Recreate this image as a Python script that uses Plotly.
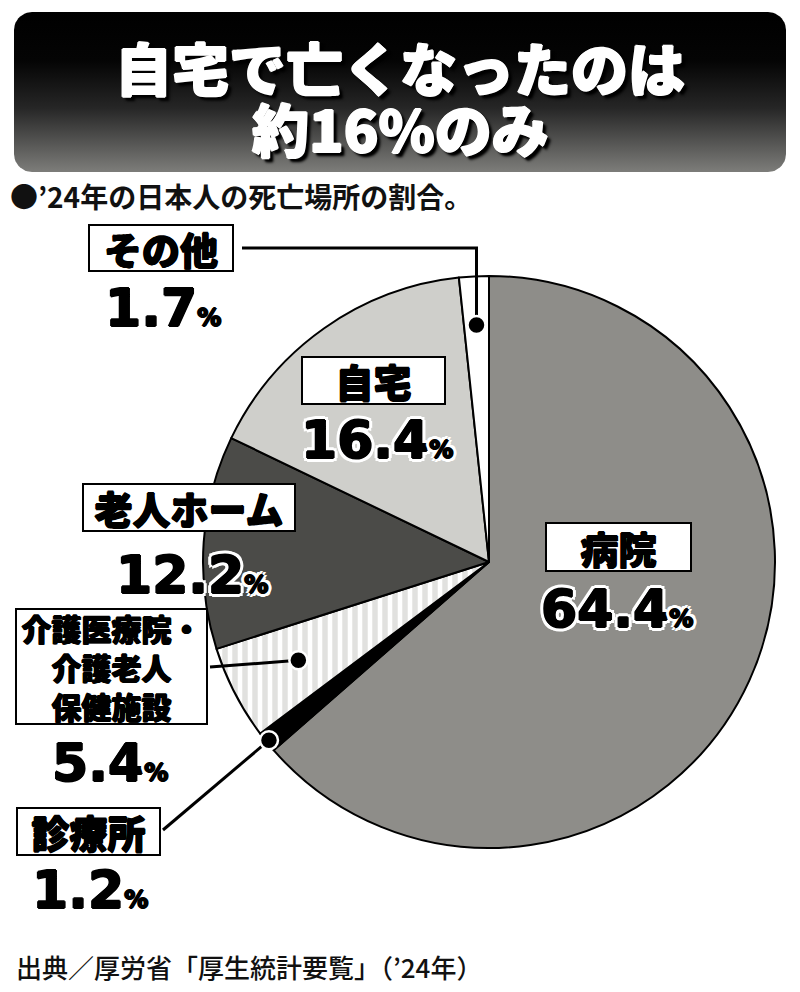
import numpy as np
import plotly.graph_objects as go

W, H = 800, 992

# ---------------- data ----------------
labels = ["病院", "診療所", "介護医療院・介護老人保健施設", "老人ホーム", "自宅", "その他"]
values = [64.4, 1.2, 5.4, 12.2, 16.4, 1.7]
slice_colors = ["#8e8d89", "#000000", "#ffffff", "#4b4b48", "#cfcfcb", "#ffffff"]
slice_patterns = ["", "", "|", "", "", ""]
box_texts = ["病院", "診療所", "介護医療院・<br>介護老人<br>保健施設", "老人ホーム", "自宅", "その他"]
pct_texts = ["64.4", "1.2", "5.4", "12.2", "16.4", "1.7"]

title_lines = ["自宅で亡くなったのは", "約16%のみ"]
subtitle = "●’24年の日本人の死亡場所の割合。"
source = "出典／厚労省「厚生統計要覧」（’24年）"

# ---------------- layout helpers ----------------
CX, CY, R = 489, 562, 286
JP = "Noto Sans CJK JP"
NUM = "DejaVu Sans"

# label box layout: (center x, center y, width, height, font size)
box_layout = [
    (618, 547, 147, 50, 38),
    (88, 831, 145, 49, 38),
    (111, 666, 193, 117, 30),
    (189, 507, 214, 49, 38),
    (373, 380, 145, 49, 38),
    (161, 248, 146, 48, 38),
]
# percent label layout: (center x, center y)
pct_layout = [
    (617, 609),
    (90, 890),
    (110, 763),
    (192, 575),
    (377, 440),
    (163, 308),
]

fig = go.Figure()

# banner (rounded rect with vertical gradient)
def rounded_rect(x0, y0, x1, y1, r, n=12):
    pts = []
    corners = [(x1 - r, y0 + r, -90, 0), (x1 - r, y1 - r, 0, 90),
               (x0 + r, y1 - r, 90, 180), (x0 + r, y0 + r, 180, 270)]
    for cx, cy, a0, a1 in corners:
        for a in np.linspace(np.radians(a0), np.radians(a1), n):
            pts.append((cx + r * np.cos(a), cy + r * np.sin(a)))
    pts.append(pts[0])
    xs, ys = zip(*pts)
    return list(xs), list(ys)

BY0, BY1 = 12, 172
bx, by = rounded_rect(14, BY0, 786, BY1, 18)
fig.add_trace(go.Scatter(
    x=bx, y=by, mode="lines", fill="toself", line=dict(width=0, color="rgba(0,0,0,0)"),
    fillgradient=dict(type="vertical", start=BY0, stop=BY1,
                      colorscale=[[0, "#000000"], [0.3, "#040404"], [0.6, "#262626"], [1, "#7d7d7a"]]),
    hoverinfo="skip", showlegend=False,
))

# pie
fig.add_trace(go.Pie(
    labels=labels, values=values, sort=False, direction="clockwise", rotation=0,
    marker=dict(colors=slice_colors, line=dict(color="#000000", width=2),
                pattern=dict(shape=slice_patterns, fgcolor="#c4c4c0", fillmode="overlay",
                             size=10, solidity=0.55)),
    textinfo="none", hoverinfo="skip", showlegend=False,
    domain=dict(x=[(CX - R) / W, (CX + R) / W], y=[(H - CY - R) / H, (H - CY + R) / H]),
))

shapes = []
annotations = []

# slice geometry for leader dots
vals = np.array(values)
cum = np.cumsum(vals)
total = cum[-1]
mid_ang = (cum - vals / 2) / total * 360.0

def polar(ang, frac):
    a = np.radians(ang)
    return CX + frac * R * np.sin(a), CY - frac * R * np.cos(a)

# leader lines + dots
ox, oy = polar(mid_ang[5], 0.83)
shapes.append(dict(type="path", path=f"M 242 248 L {ox:.1f} 248 L {ox:.1f} {oy:.1f}",
                   line=dict(color="black", width=3), xref="x", yref="y", layer="above"))
kx, ky = polar(mid_ang[2], 0.75)
shapes.append(dict(type="line", x0=210, y0=667, x1=kx, y1=ky,
                   line=dict(color="black", width=3), xref="x", yref="y", layer="above"))
sx, sy = polar(mid_ang[1], 0.99)
shapes.append(dict(type="line", x0=163, y0=830, x1=sx, y1=sy,
                   line=dict(color="black", width=3), xref="x", yref="y", layer="above"))
for (dx, dy) in [(ox, oy), (kx, ky), (sx, sy)]:
    shapes.append(dict(type="circle", x0=dx - 9, x1=dx + 9, y0=dy - 9, y1=dy + 9,
                       fillcolor="black", line=dict(color="white", width=2.5),
                       xref="x", yref="y", layer="above"))

# title (white, emboldened, with black drop shadow)
title_shadow = ("1px 0 0 #fff, -1px 0 0 #fff, 0 1px 0 #fff, 0 -1px 0 #fff, "
                "3px 3px 2px #000, 4px 4px 3px #000")
for t, y in zip(title_lines, [66, 127]):
    annotations.append(dict(x=400, y=y, xref="x", yref="y", text=t, showarrow=False,
                            xanchor="center", yanchor="middle",
                            font=dict(family=JP, size=57, color="white", weight=900,
                                      shadow=title_shadow)))

annotations.append(dict(x=8, y=196, xref="x", yref="y", text=subtitle, showarrow=False,
                        xanchor="left", yanchor="middle",
                        font=dict(family=JP, size=28, color="#111", weight=700)))
annotations.append(dict(x=14, y=966, xref="x", yref="y", text=source, showarrow=False,
                        xanchor="left", yanchor="middle",
                        font=dict(family=JP, size=26, color="#111", weight=500)))

# label boxes
bold_shadow = "0.7px 0 0 #000, -0.7px 0 0 #000, 0 0.7px 0 #000, 0 -0.7px 0 #000"
for txt, (cx, cy, w, h, fs) in zip(box_texts, box_layout):
    annotations.append(dict(x=cx, y=cy, xref="x", yref="y", text=txt, showarrow=False,
                            xanchor="center", yanchor="middle", width=w - 4, height=h - 4,
                            bgcolor="white", bordercolor="black", borderwidth=2, borderpad=0,
                            align="center",
                            font=dict(family=JP, size=fs, color="black", weight=900,
                                      shadow=bold_shadow)))

# percent labels (heavy black digits with white outline)
inner = [(1, 0), (-1, 0), (0, 1), (0, -1)]
outer = [(-4, 0), (4, 0), (0, -4), (0, 4), (-3, -3), (3, -3), (-3, 3), (3, 3)]
outline = ", ".join([f"{a}px {b}px 0 #000" for a, b in inner] +
                    [f"{a}px {b}px 0 #fff" for a, b in outer])
for txt, (cx, cy) in zip(pct_texts, pct_layout):
    annotations.append(dict(x=cx, y=cy, xref="x", yref="y",
                            text=f"{txt}<span style='font-size:24px'>%</span>",
                            showarrow=False, xanchor="center", yanchor="middle",
                            font=dict(family=NUM, size=52, color="black", weight=700,
                                      shadow=outline)))

fig.update_layout(
    width=W, height=H, margin=dict(l=0, r=0, t=0, b=0),
    paper_bgcolor="white", plot_bgcolor="rgba(0,0,0,0)",
    xaxis=dict(range=[0, W], visible=False, fixedrange=True, domain=[0, 1]),
    yaxis=dict(range=[H, 0], visible=False, fixedrange=True, domain=[0, 1]),
    shapes=shapes, annotations=annotations, showlegend=False,
)

fig.write_html("out.html")
